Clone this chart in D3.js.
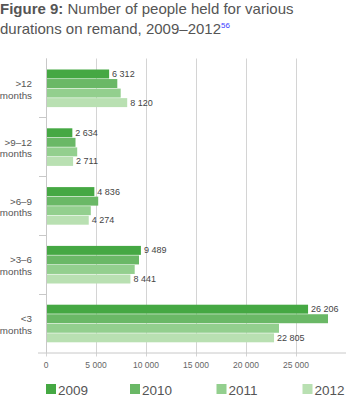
<!DOCTYPE html>
<html>
<head>
<meta charset="utf-8">
<script src="https://cdn.jsdelivr.net/npm/d3@7"></script>
<style>
  body { margin: 0; background: #fff; }
  svg { display: block; font-family: "Liberation Sans", Arial, sans-serif; }
</style>
</head>
<body>
<div id="chart"></div>
<script>
// data
const categories = [">12|months", ">9–12|months", ">6–9|months", ">3–6|months", "<3|months"];
const years = ["2009", "2010", "2011", "2012"];
const values2009 = [6312, 2634, 4836, 9489, 26206];
const values2010 = [7130, 2950, 5220, 9300, 28200];
const values2011 = [7470, 3120, 4480, 8870, 23300];
const values2012 = [8120, 2711, 4274, 8441, 22805];
const xTicks = [0, 5000, 10000, 15000, 20000, 25000];
// only first and last year get a value label
const labelled = ["2009", "2012"];

const colors = ["#45a843", "#6ab866", "#93cf8e", "#b9e0b2"];

const width = 346, height = 404;
const margin = { top: 58.5, left: 46, right: 2, bottom: 51.5 };

const svg = d3.select("#chart")
  .append("svg")
  .attr("width", width)
  .attr("height", height);

// title
const title = svg.append("text")
  .attr("fill", "#555")
  .attr("font-size", "15px");
title.append("tspan").attr("x", 0).attr("y", 13.5)
  .attr("font-weight", "bold").text("Figure 9:");
title.append("tspan").text(" Number of people held for various");
const title2 = svg.append("text")
  .attr("x", 0).attr("y", 33.5)
  .attr("fill", "#555")
  .attr("font-size", "15px")
  .text("durations on remand, 2009–2012");
title2.append("tspan")
  .attr("dy", -5.5)
  .attr("font-size", "8px")
  .attr("fill", "#3b3bff")
  .text("56");

// rows: one per category, one value per year
const rows = categories.map((c, i) => ({
  cat: c,
  vals: [values2009[i], values2010[i], values2011[i], values2012[i]]
}));

const xScale = d3.scaleLinear()
  .domain([0, 25000])
  .range([margin.left, margin.left + 250]);

const yScale = d3.scaleBand()
  .domain(categories)
  .range([margin.top, height - margin.bottom]);

const yInner = d3.scaleBand()
  .domain(years)
  .range([11, 48.6])
  .paddingInner(0.06);

const axisY = height - margin.bottom;

// vertical gridlines
svg.append("g")
  .selectAll("line")
  .data(xTicks)
  .join("line")
  .attr("x1", d => xScale(d) + 0.5)
  .attr("x2", d => xScale(d) + 0.5)
  .attr("y1", margin.top)
  .attr("y2", axisY + 4)
  .attr("stroke", "#d4d4d4")
  .attr("stroke-width", 1);

// category separator ticks
svg.append("g")
  .selectAll("line")
  .data(categories.slice(1))
  .join("line")
  .attr("x1", margin.left - 7)
  .attr("x2", margin.left)
  .attr("y1", d => Math.round(yScale(d)) + 0.5)
  .attr("y2", d => Math.round(yScale(d)) + 0.5)
  .attr("stroke", "#c8c8c8");

// bars
const groups = svg.append("g")
  .selectAll("g")
  .data(rows)
  .join("g")
  .attr("transform", d => `translate(0, ${yScale(d.cat)})`);

groups.selectAll("rect")
  .data(d => d.vals.map((v, j) => ({ year: years[j], v: v, j: j })))
  .join("rect")
  .attr("x", xScale(0))
  .attr("y", d => yInner(d.year))
  .attr("width", d => xScale(d.v) - xScale(0))
  .attr("height", yInner.bandwidth())
  .attr("fill", d => colors[d.j]);

const fmt = v => d3.format(",")(v).replace(/,/g, " ");

groups.selectAll("text.val")
  .data(d => d.vals.map((v, j) => ({ year: years[j], v: v }))
    .filter(d => labelled.includes(d.year)))
  .join("text")
  .attr("class", "val")
  .attr("x", d => xScale(d.v) + 3)
  .attr("y", d => yInner(d.year) + yInner.bandwidth() / 2 + 3)
  .attr("font-size", "9px")
  .attr("fill", "#444")
  .text(d => fmt(d.v));

// category labels (two lines)
groups.each(function (d) {
  const parts = d.cat.split("|");
  const t = d3.select(this).append("text")
    .attr("text-anchor", "end")
    .attr("font-size", "9.8px")
    .attr("fill", "#555");
  parts.forEach((p, k) => {
    t.append("tspan")
      .attr("x", 32)
      .attr("y", 28.5 + k * 11.5)
      .text(p);
  });
});

// y axis line and x axis line
svg.append("line")
  .attr("x1", margin.left + 0.5).attr("x2", margin.left + 0.5)
  .attr("y1", margin.top).attr("y2", axisY)
  .attr("stroke", "#c8c8c8");

svg.append("line")
  .attr("x1", margin.left - 8).attr("x2", width)
  .attr("y1", axisY + 0.5).attr("y2", axisY + 0.5)
  .attr("stroke", "#c8c8c8");

// tick labels
svg.append("g")
  .selectAll("text")
  .data(xTicks)
  .join("text")
  .attr("x", d => xScale(d))
  .attr("y", axisY + 15.5)
  .attr("text-anchor", "middle")
  .attr("font-size", "8.5px")
  .attr("fill", "#666")
  .text(d => fmt(d));

// legend
const legendX = [46, 130, 216.5, 302.5];
const legend = svg.append("g")
  .selectAll("g")
  .data(years)
  .join("g")
  .attr("transform", (d, i) => `translate(${legendX[i]}, 384)`);

legend.append("rect")
  .attr("width", 10)
  .attr("height", 10)
  .attr("fill", (d, i) => colors[i]);

legend.append("text")
  .attr("x", 12)
  .attr("y", 10.5)
  .attr("font-size", "13.5px")
  .attr("fill", "#555")
  .text(d => d);
</script>
</body>
</html>
